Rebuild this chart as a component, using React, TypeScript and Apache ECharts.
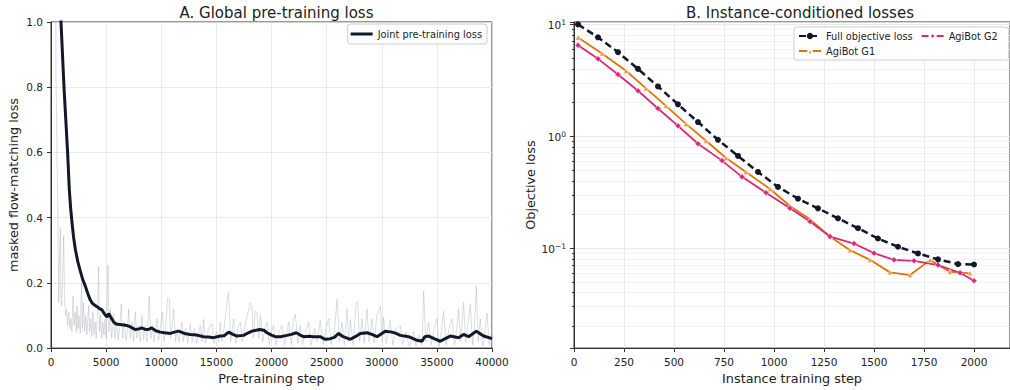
import React, { useEffect, useRef } from 'react';
import * as echarts from 'echarts';

// ---------- Panel A: global pre-training loss ----------
const rawLoss: [number, number][] = [
  [300, 1.6], [420, 1.2], [450, 0.85], [560, 0.55], [620, 0.42], [700, 0.14], [760, 0.25], [846, 0.37], [900, 0.16], [960, 0.13],
  [1050, 0.22], [1150, 0.345], [1230, 0.15], [1320, 0.10], [1420, 0.12], [1500, 0.07], [1600, 0.11], [1700, 0.06], [1800, 0.09], [1900, 0.05],
  [2000, 0.16], [2100, 0.07], [2200, 0.11], [2300, 0.05], [2360, 0.13], [2450, 0.06], [2550, 0.10], [2650, 0.045], [2776, 0.20], [2850, 0.06],
  [2960, 0.14], [3050, 0.05], [3150, 0.10], [3250, 0.04], [3416, 0.13], [3500, 0.05], [3600, 0.09], [3700, 0.035], [3800, 0.11], [3900, 0.04],
  [4000, 0.08], [4100, 0.03], [4200, 0.09], [4323, 0.25], [4400, 0.05], [4500, 0.10], [4600, 0.03], [4700, 0.08], [4800, 0.04], [4900, 0.09],
  [5000, 0.03], [5170, 0.254], [5250, 0.05], [5380, 0.12], [5500, 0.03], [5683, 0.105], [5800, 0.03], [5950, 0.08], [6100, 0.025], [6250, 0.07],
  [6380, 0.135], [6500, 0.03], [6650, 0.08], [6800, 0.025], [6950, 0.06], [7044, 0.12], [7200, 0.03], [7350, 0.08], [7500, 0.02], [7648, 0.11],
  [7800, 0.03], [7950, 0.07], [8100, 0.02], [8253, 0.10], [8400, 0.025], [8550, 0.07], [8700, 0.02], [8918, 0.16], [9050, 0.03], [9200, 0.07],
  [9350, 0.02], [9613, 0.09], [9750, 0.025], [9900, 0.06], [10127, 0.11], [10250, 0.02], [10400, 0.06], [10580, 0.155], [10740, 0.15], [10850, 0.03],
  [11000, 0.07], [11125, 0.12], [11300, 0.02], [11450, 0.06], [11600, 0.02], [11880, 0.08], [12000, 0.02], [12200, 0.06], [12400, 0.015], [12636, 0.075],
  [12800, 0.02], [13000, 0.06], [13200, 0.015], [13543, 0.07], [13700, 0.02], [13850, 0.088], [14000, 0.015], [14300, 0.06], [14601, 0.075], [14800, 0.015],
  [15000, 0.05], [15200, 0.02], [15357, 0.08], [15500, 0.02], [15700, 0.06], [15960, 0.144], [16113, 0.17], [16300, 0.02], [16566, 0.09], [16750, 0.015],
  [16950, 0.06], [17170, 0.08], [17350, 0.02], [17600, 0.07], [17987, 0.125], [18080, 0.139], [18228, 0.13], [18350, 0.03], [18530, 0.113], [18682, 0.11],
  [18850, 0.03], [19000, 0.10], [19200, 0.02], [19400, 0.06], [19589, 0.08], [19800, 0.01], [20000, 0.05], [20194, 0.07], [20400, 0.01], [20700, 0.05],
  [20949, 0.07], [21200, 0.01], [21400, 0.05], [21554, 0.08], [21800, 0.01], [22007, 0.09], [22170, 0.103], [22400, 0.015], [22612, 0.07], [22800, 0.01],
  [23100, 0.05], [23368, 0.08], [23600, 0.01], [23900, 0.06], [24150, 0.02], [24425, 0.085], [24700, 0.01], [24950, 0.06], [25181, 0.09], [25400, 0.01],
  [25700, 0.05], [25950, 0.15], [26150, 0.02], [26390, 0.08], [26600, 0.01], [26844, 0.12], [27000, 0.02], [27150, 0.088], [27400, 0.01], [27691, 0.14],
  [27820, 0.144], [28000, 0.02], [28205, 0.09], [28400, 0.015], [28658, 0.12], [28850, 0.02], [29111, 0.09], [29300, 0.015], [29565, 0.10], [29870, 0.129],
  [30050, 0.02], [30170, 0.095], [30400, 0.015], [30774, 0.085], [31000, 0.01], [31300, 0.06], [31681, 0.07], [31900, 0.01], [32200, 0.05], [32500, 0.005],
  [32890, 0.05], [33100, 0.005], [33400, 0.04], [33650, 0.01], [33800, 0.175], [34000, 0.02], [34250, 0.08], [34500, 0.01], [34750, 0.06], [35006, 0.09],
  [35200, 0.005], [35400, 0.05], [35610, 0.113], [35850, 0.01], [36100, 0.06], [36367, 0.09], [36600, 0.01], [36800, 0.06], [36971, 0.12], [37150, 0.02],
  [37425, 0.14], [37600, 0.02], [37800, 0.07], [38030, 0.134], [38250, 0.01], [38400, 0.06], [38580, 0.19], [38750, 0.02], [38936, 0.09], [39150, 0.005],
  [39350, 0.05], [39550, 0.108], [39750, 0.01], [40000, 0.06],
];

const jointLoss: [number, number][] = [
  [800, 1.15], [907, 1.0], [1179, 0.8], [1506, 0.6], [1663, 0.485], [1780, 0.43], [1905, 0.385], [2050, 0.34], [2207, 0.303], [2430, 0.265],
  [2660, 0.236], [2880, 0.21], [3114, 0.19], [3260, 0.175], [3416, 0.16], [3560, 0.148], [3718, 0.139], [3950, 0.132], [4172, 0.127], [4400, 0.121],
  [4625, 0.117], [4850, 0.105], [5079, 0.095], [5230, 0.106], [5400, 0.096], [5683, 0.08], [5900, 0.074], [6258, 0.0725], [6600, 0.071], [6857, 0.0695],
  [7200, 0.065], [7619, 0.057], [8000, 0.059], [8218, 0.062], [8500, 0.058], [8825, 0.057], [9125, 0.062], [9500, 0.053], [9914, 0.049], [10300, 0.047],
  [10820, 0.045], [11200, 0.049], [11576, 0.052], [12100, 0.045], [12635, 0.042], [13200, 0.04], [13844, 0.035], [14300, 0.034], [14751, 0.032], [15356, 0.037],
  [15700, 0.038], [16110, 0.049], [16500, 0.042], [16870, 0.037], [17470, 0.039], [17900, 0.047], [18230, 0.052], [18920, 0.057], [19300, 0.055], [19590, 0.047],
  [20000, 0.04], [20340, 0.035], [20800, 0.035], [21400, 0.039], [21800, 0.042], [22250, 0.047], [22600, 0.04], [22910, 0.035], [23400, 0.036], [23820, 0.035],
  [24400, 0.035], [24880, 0.027], [25330, 0.029], [25700, 0.033], [26090, 0.045], [26500, 0.035], [27150, 0.027], [27600, 0.035], [28060, 0.045], [28660, 0.047],
  [29100, 0.042], [29570, 0.035], [30320, 0.052], [30930, 0.049], [31300, 0.045], [31680, 0.039], [32440, 0.035], [33100, 0.025], [33650, 0.021], [33900, 0.035],
  [34250, 0.037], [34800, 0.028], [35310, 0.021], [35800, 0.03], [36220, 0.037], [36970, 0.032], [37420, 0.042], [37880, 0.035], [38580, 0.052], [39240, 0.037],
  [40000, 0.029],
];

// ---------- Panel B: instance-conditioned losses ----------
const fullSteps = [20, 120, 220, 320, 420, 520, 620, 720, 820, 920, 1020, 1120, 1220, 1320, 1420, 1520, 1620, 1720, 1820, 1920, 2000];
const fullLoss = [10.0, 7.66, 5.64, 4.0, 2.79, 1.93, 1.34, 0.93, 0.667, 0.48, 0.353, 0.277, 0.227, 0.185, 0.151, 0.122, 0.103, 0.0897, 0.0794, 0.0721, 0.0715];

const g1Steps = [20, 140, 260, 360, 460, 560, 660, 760, 860, 980, 1080, 1180, 1280, 1380, 1480, 1580, 1680, 1780, 1880, 1980];
const g1Loss = [7.62, 5.49, 3.85, 2.68, 1.87, 1.29, 0.912, 0.64, 0.48, 0.338, 0.238, 0.181, 0.127, 0.096, 0.0787, 0.0608, 0.0575, 0.0782, 0.0616, 0.0596];

const g2Steps = [20, 120, 220, 320, 420, 520, 620, 740, 840, 960, 1080, 1180, 1280, 1400, 1500, 1600, 1700, 1820, 1930, 2000];
const g2Loss = [6.5, 4.92, 3.57, 2.55, 1.77, 1.24, 0.858, 0.606, 0.434, 0.313, 0.227, 0.173, 0.127, 0.110, 0.0903, 0.0787, 0.0771, 0.0706, 0.0603, 0.0512];

const FONT = 'DejaVu Sans';
const TXT = '#222222';
const SPINE = '#333333';
const GRIDC = '#e4e4e4';

const zip = (xs: number[], ys: number[]) => xs.map((x, i) => [x, ys[i]]);

export default function App() {
  const ref = useRef<HTMLDivElement>(null);
  useEffect(() => {
    if (!ref.current) return;
    const chart = echarts.init(ref.current, undefined, { renderer: 'svg' });

    const axisCommon = {
      axisLine: { show: true, onZero: false, lineStyle: { color: SPINE, width: 1 } },
      axisTick: { show: true, length: 4, lineStyle: { color: SPINE } },
      axisLabel: { color: TXT, fontFamily: FONT, fontSize: 10.5, formatter: (v: number) => String(v) },
      splitLine: { show: true, lineStyle: { color: GRIDC, width: 0.8 } },
      nameTextStyle: { color: TXT, fontFamily: FONT, fontSize: 12.8 },
    };

    const supMap: Record<string, string> = { '-1': '−1', '0': '0', '1': '1', '-2': '−2' };

    const option: any = {
      animation: false,
      backgroundColor: '#ffffff',
      title: [
        { text: 'A. Global pre-training loss', left: 271.5, top: 0, textAlign: 'center',
          textStyle: { fontFamily: FONT, fontSize: 15, fontWeight: 'normal', color: TXT } },
        { text: 'B. Instance-conditioned losses', left: 795, top: 0, textAlign: 'center',
          textStyle: { fontFamily: FONT, fontSize: 15, fontWeight: 'normal', color: TXT } },
      ],
      grid: [
        { left: 51, right: 518, top: 22, bottom: 41, show: true, borderColor: SPINE, borderWidth: 1, backgroundColor: 'transparent' },
        { left: 574, right: -6, top: 22, bottom: 41, show: true, borderColor: SPINE, borderWidth: 1, backgroundColor: 'transparent' },
      ],
      legend: [
        {
          data: [{ name: 'Joint pre-training loss', icon: 'rect' }],
          right: 523, top: 24, padding: [5, 5, 5, 3],
          backgroundColor: '#ffffff', borderColor: '#cccccc', borderWidth: 1, borderRadius: 3,
          itemWidth: 22, itemHeight: 3, itemGap: 6,
          textStyle: { fontFamily: FONT, fontSize: 9.8, color: TXT },
        },
        {
          data: ['Full objective loss', 'AgiBot G2', 'AgiBot G1'],
          left: 794, top: 27, width: 214, padding: [4, 8, 4, 4],
          backgroundColor: '#ffffff', borderColor: '#cccccc', borderWidth: 1, borderRadius: 3,
          itemWidth: 22, itemHeight: 8, itemGap: 5,
          textStyle: { fontFamily: FONT, fontSize: 9.8, color: TXT, lineHeight: 7, padding: [0, 3, 0, 0] },
        },
      ],
      xAxis: [
        {
          ...axisCommon, gridIndex: 0, type: 'value', min: 0, max: 40000, interval: 5000,
          name: 'Pre-training step', nameLocation: 'middle', nameGap: 20,
        },
        {
          ...axisCommon, gridIndex: 1, type: 'value', min: 0, max: 2180, interval: 250,
          axisLabel: { ...axisCommon.axisLabel, showMaxLabel: false },
          name: 'Instance training step', nameLocation: 'middle', nameGap: 20,
        },
      ],
      yAxis: [
        {
          ...axisCommon, gridIndex: 0, type: 'value', min: 0, max: 1.0, interval: 0.2,
          axisLabel: { ...axisCommon.axisLabel, formatter: (v: number) => v.toFixed(1) },
          name: 'masked flow-matching loss', nameLocation: 'middle', nameGap: 31,
        },
        {
          ...axisCommon, gridIndex: 1, type: 'log', logBase: 10, min: 0.0128, max: 10.5,
          axisLabel: {
            ...axisCommon.axisLabel, showMinLabel: false, showMaxLabel: false,
            formatter: (v: number) => {
              const l = Math.log10(v);
              const e = Math.round(l);
              if (Math.abs(l - e) > 1e-6) return '';
              return `{b|10}{s|${supMap[String(e)] ?? String(e)}}`;
            },
            rich: {
              b: { fontFamily: FONT, fontSize: 10.5, color: TXT, verticalAlign: 'bottom', lineHeight: 12 },
              s: { fontFamily: FONT, fontSize: 7.5, color: TXT, verticalAlign: 'top', lineHeight: 9, padding: [0, 0, 6, 0] },
            },
          },
          minorTick: { show: true, splitNumber: 9, length: 2, lineStyle: { color: SPINE } },
          minorSplitLine: { show: true, lineStyle: { color: '#f0f0f0', width: 0.8 } },
          name: 'Objective loss', nameLocation: 'middle', nameGap: 37,
        },
      ],
      series: [
        {
          name: 'raw', type: 'line', xAxisIndex: 0, yAxisIndex: 0, data: rawLoss,
          symbol: 'none', silent: true, lineStyle: { color: 'rgba(160,166,176,0.38)', width: 1 }, z: 1,
        },
        {
          name: 'Joint pre-training loss', type: 'line', xAxisIndex: 0, yAxisIndex: 0, data: jointLoss,
          symbol: 'none', lineStyle: { color: '#111827', width: 3 }, itemStyle: { color: '#111827' }, z: 3,
        },
        {
          name: 'Full objective loss', type: 'line', xAxisIndex: 1, yAxisIndex: 1, data: zip(fullSteps, fullLoss),
          symbol: 'circle', symbolSize: 6, showAllSymbol: true,
          lineStyle: { color: '#111827', width: 2.5, type: [7, 4] }, itemStyle: { color: '#111827' }, z: 4,
        },
        {
          name: 'AgiBot G1', type: 'line', xAxisIndex: 1, yAxisIndex: 1, data: zip(g1Steps, g1Loss),
          symbol: 'triangle', symbolSize: 5, showAllSymbol: true,
          lineStyle: { color: '#d97706', width: 1.8 }, itemStyle: { color: '#e9953a', borderColor: '#ffffff', borderWidth: 0.5 }, z: 3,
        },
        {
          name: 'AgiBot G2', type: 'line', xAxisIndex: 1, yAxisIndex: 1, data: zip(g2Steps, g2Loss),
          symbol: 'diamond', symbolSize: 6, showAllSymbol: true,
          lineStyle: { color: '#db2777', width: 1.8 }, itemStyle: { color: '#db2777', borderColor: '#ffffff', borderWidth: 0.5 }, z: 3,
        },
      ],
    };

    chart.setOption(option);
    return () => chart.dispose();
  }, []);

  return <div ref={ref} style={{ position: 'fixed', left: 0, top: 0, width: 1010, height: 390 }} />;
}
